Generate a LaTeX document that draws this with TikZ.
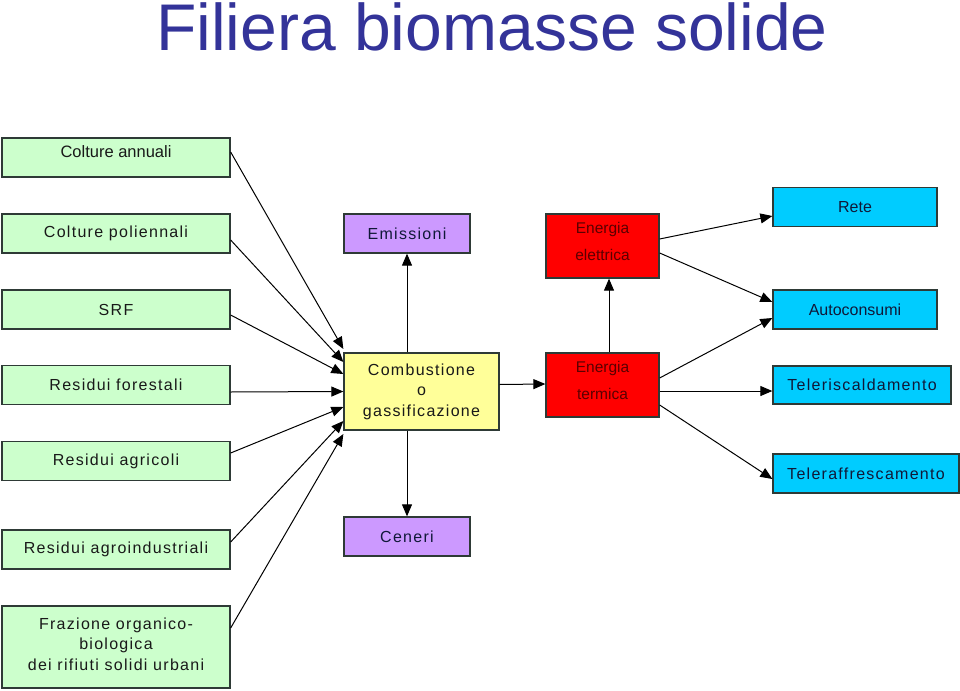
\documentclass[tikz,border=0pt]{standalone}
\usepackage{fontspec}
\setmainfont{Liberation Sans}
\newfontfamily\bxfont[LetterSpace=8]{Liberation Sans}
\usetikzlibrary{arrows.meta,calc}
\definecolor{gfill}{HTML}{CCFFCC}
\definecolor{pfill}{HTML}{CC99FF}
\definecolor{yfill}{HTML}{FFFF99}
\definecolor{rfill}{HTML}{FF0000}
\definecolor{cfill}{HTML}{00CCFF}
\definecolor{bord}{HTML}{2E3A36}
\definecolor{titlec}{HTML}{333399}
\definecolor{rtext}{HTML}{5A0000}
\definecolor{ctext}{HTML}{101838}
\begin{document}
\begin{tikzpicture}[x=1pt,y=-1pt,
  box/.style={draw=bord, line width=1.3pt, inner sep=0pt, align=center,
              font=\bxfont\fontsize{16}{20.5}\selectfont, text=black!90},
  gbox/.style={box, fill=gfill, minimum width=228pt, minimum height=39pt},
  pbox/.style={box, fill=pfill, minimum width=126pt, minimum height=39pt, text=ctext},
  rbox/.style={box, fill=rfill, minimum width=113pt, minimum height=64pt},
  cbox/.style={box, fill=cfill, minimum height=39pt, text=ctext},
  rlab/.style={font=\fontsize{15.5}{27}\selectfont, text=rtext, align=center, inner sep=0pt},
  arr/.style={line width=1pt, -{Triangle[length=12pt,width=10pt]}}]
\fill[white] (0,0) rectangle (960,690);
\useasboundingbox (0,0) rectangle (960,690);

\node[anchor=base, font=\fontsize{66}{70}\selectfont, text=titlec, inner sep=0pt] (title) at (492,51) {Filiera biomasse solide};

% left column
\node[gbox, label={[name=cat, yshift=6pt, font=\fontsize{16.5}{20}\selectfont, text=black!90]center:Colture annuali}] (ca) at (116,157.5) {};
\node[gbox] (cp) at (116,233.5) {Colture poliennali};
\node[gbox] (srf) at (116,309.5) {SRF};
\node[gbox] (rf) at (116,385) {Residui forestali};
\node[gbox] (ra) at (116,461) {Residui agricoli};
\node[gbox] (rai) at (116,549.5) {Residui agroindustriali};
\node[gbox, minimum height=82pt, label={[name=frt, yshift=3pt, align=center, font=\bxfont\fontsize{16}{20.5}\selectfont, text=black!90]center:Frazione organico-\\biologica\\dei rifiuti solidi urbani}] (fr) at (116,647) {};

% middle
\node[box, fill=yfill, minimum width=155pt, minimum height=77pt] (comb) at (421.5,391.5) {Combustione\\o\\gassificazione};
\node[pbox] (em) at (407,233.5) {Emissioni};
\node[pbox] (cen) at (407,536.5) {Ceneri};

% energy
\node[rbox, label={[name=eet, yshift=4.5pt, rlab]center:Energia\\elettrica}] (ee) at (602.5,246) {};
\node[rbox, label={[name=ett, yshift=4.5pt, rlab]center:Energia\\termica}] (et) at (602.5,385) {};

% right column
\node[cbox, minimum width=164pt, font=\fontsize{16}{18}\selectfont] (rete) at (855,207) {Rete};
\node[cbox, minimum width=164pt, font=\fontsize{16}{18}\selectfont] (auto) at (855,309.5) {Autoconsumi};
\node[cbox, minimum width=178pt, minimum height=38pt] (tr) at (862,385) {Teleriscaldamento};
\node[cbox, minimum width=186pt] (tf) at (866,473.5) {Teleraffrescamento};

% inputs to combustion
\draw[arr] ($(ca.east)+(0,-5.5)$) -- ($(comb.west)+(0,-42.5)$);
\draw[arr] ($(cp.east)+(0,6.5)$) -- ($(comb.west)+(0,-29.5)$);
\draw[arr] ($(srf.east)+(0,5.5)$) -- ($(comb.west)+(0,-17.5)$);
\draw[arr] ($(rf.east)+(0,7)$) -- ($(comb.west)+(0,0)$);
\draw[arr] ($(ra.east)+(0,-8)$) -- ($(comb.west)+(0,15.5)$);
\draw[arr] ($(rai.east)+(0,-7.5)$) -- ($(comb.west)+(0,29.5)$);
\draw[arr] ($(fr.east)+(0,-19)$) -- ($(comb.west)+(0,42.5)$);

% combustion outputs
\draw[arr] (comb.north -| em) -- (em.south);
\draw[arr] (comb.south -| cen) -- (cen.north);
\draw[arr] ($(comb.east)+(0,-7)$) -- ($(et.west)+(0,-1)$);

% energy flows
\draw[arr] ($(et.north)+(6.5,0)$) -- ($(ee.south)+(6.5,0)$);
\draw[arr] ($(ee.east)+(0,-7)$) -- ($(rete.west)+(0,9)$);
\draw[arr] ($(ee.east)+(0,7)$) -- ($(auto.west)+(0,-7.5)$);
\draw[arr] ($(et.east)+(0,-7)$) -- ($(auto.west)+(0,8.5)$);
\draw[arr] ($(et.east)+(0,6)$) -- ($(tr.west)+(0,6)$);
\draw[arr] ($(et.east)+(0,20)$) -- ($(tf.west)+(0,5.5)$);
\end{tikzpicture}
\end{document}
